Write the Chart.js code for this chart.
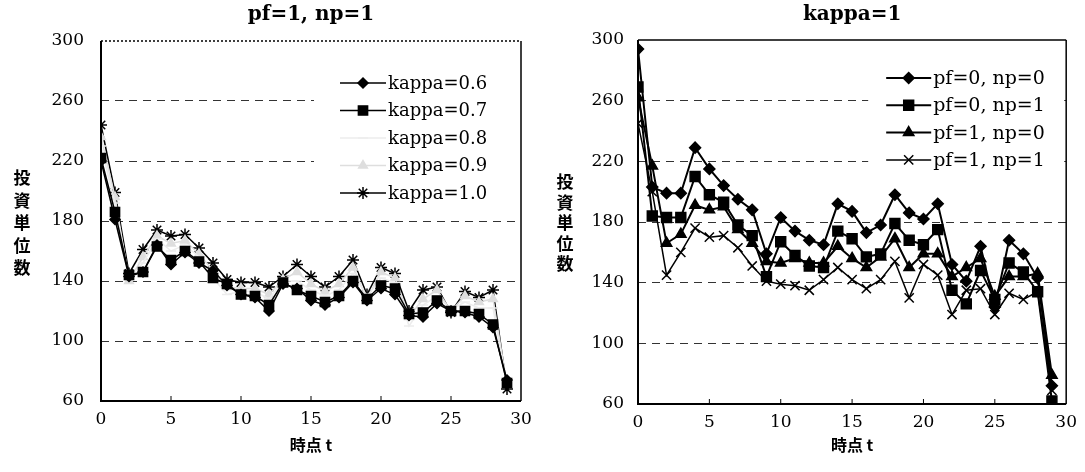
<!DOCTYPE html>
<html>
<head>
<meta charset="utf-8">
<script src="https://cdn.jsdelivr.net/npm/chart.js@4.4.0/dist/chart.umd.min.js"></script>
<style>
  body { margin: 0; background: #fff; }
  #wrap { position: relative; width: 1085px; height: 472px; overflow: hidden; }
  .box { position: absolute; top: 0; height: 472px; }
  .ytitle {
    position: absolute; width: 24px; text-align: center;
    font-family: "Noto Sans CJK JP", sans-serif; font-weight: bold; font-size: 17px; color: #000;
  }
</style>
</head>
<body>
<div id="wrap">
  <div class="box" style="left:0;width:540px"><canvas id="leftChart"></canvas></div>
  <div class="box" style="left:540px;width:545px"><canvas id="rightChart"></canvas></div>
  <div class="ytitle" style="left:10px;top:166px;line-height:22.5px">投<br>資<br>単<br>位<br>数</div>
  <div class="ytitle" style="left:553px;top:171px;line-height:20.5px">投<br>資<br>単<br>位<br>数</div>
</div>
<script>
// data
const times = [0, 1, 2, 3, 4, 5, 6, 7, 8, 9, 10, 11, 12, 13, 14, 15, 16, 17, 18, 19, 20, 21, 22, 23, 24, 25, 26, 27, 28, 29];
const xTicks = [0, 5, 10, 15, 20, 25, 30];
const yTicks = [60, 100, 140, 180, 220, 260, 300];

// left chart: pf=1, np=1
const kappa06 = [220, 181, 143, 146, 164, 151, 159, 152, 147, 137, 131, 129, 120, 138, 135, 127, 124, 129, 139, 127, 135, 131, 117, 116, 125, 120, 119, 116, 109, 74];
const kappa07 = [222, 186, 144, 146, 163, 154, 160, 153, 142, 138, 131, 130, 124, 139, 134, 130, 126, 130, 140, 128, 137, 135, 118, 119, 127, 120, 120, 118, 111, 72];
const kappa08 = [230, 192, 142, 152, 168, 160, 164, 156, 142, 131, 133, 133, 128, 140, 140, 134, 130, 134, 145, 130, 142, 139, 110, 124, 130, 121, 126, 122, 122, 70];
const kappa09 = [236, 196, 140, 156, 170, 165, 167, 158, 147, 136, 135, 135, 131, 141, 146, 138, 133, 138, 149, 128, 146, 142, 116, 128, 134, 120, 130, 126, 128, 71];
const kappa10 = [244, 199, 145, 161, 174, 170, 171, 162, 152, 141, 139, 139, 136, 143, 151, 143, 136, 143, 154, 131, 149, 145, 120, 134, 136, 119, 133, 129, 134, 68];

// right chart: kappa=1
const pf0np0 = [294, 203, 199, 199, 229, 215, 204, 195, 188, 159, 183, 174, 168, 165, 192, 187, 173, 178, 198, 186, 182, 192, 152, 141, 164, 124, 168, 159, 143, 72];
const pf0np1 = [269, 184, 183, 183, 210, 198, 193, 178, 171, 144, 167, 158, 151, 150, 174, 169, 157, 159, 179, 168, 165, 175, 135, 126, 148, 129, 153, 147, 134, 62];
const pf1np0 = [262, 217, 166, 172, 191, 188, 190, 175, 166, 154, 153, 156, 153, 153, 164, 156, 150, 157, 169, 150, 159, 159, 144, 150, 156, 131, 144, 144, 146, 79];
const pf1np1 = [245, 200, 145, 160, 176, 170, 171, 163, 151, 141, 139, 138, 135, 142, 150, 142, 136, 142, 154, 130, 152, 145, 119, 135, 136, 119, 133, 129, 134, 69];

const serif = '"DejaVu Serif", "Liberation Serif", serif';
const cjk = '"Noto Sans CJK JP", sans-serif';

function toPoints(values) {
    return values.map((v, i) => ({ x: times[i], y: v }));
}

function series(label, values, color, style, radius, width) {
    return {
        label: label,
        data: toPoints(values),
        borderColor: color,
        borderWidth: width,
        pointStyle: style,
        pointRadius: radius,
        pointBackgroundColor: color,
        pointBorderColor: color,
        pointBorderWidth: 1.5,
        tension: 0
    };
}

// legend drawn inside the plot box, top right, on a white patch
const boxLegend = {
    id: 'boxLegend',
    afterDraw(chart, args, opts) {
        const ctx = chart.ctx;
        const area = chart.chartArea;
        const sets = chart.data.datasets;
        const x0 = area.right - opts.right;
        ctx.save();
        ctx.fillStyle = '#fff';
        ctx.fillRect(x0 - opts.patch, area.top + opts.top - opts.gap / 2 - 2,
            area.right - x0 + opts.patch - 2, sets.length * opts.gap + 4);
        sets.forEach((ds, i) => {
            const y = area.top + opts.top + i * opts.gap;
            ctx.setLineDash([]);
            ctx.strokeStyle = ds.borderColor;
            ctx.lineWidth = ds.borderWidth;
            ctx.beginPath();
            ctx.moveTo(x0, y);
            ctx.lineTo(x0 + opts.lineLen, y);
            ctx.stroke();
            ctx.fillStyle = ds.pointBackgroundColor;
            ctx.strokeStyle = ds.pointBorderColor;
            ctx.lineWidth = ds.pointBorderWidth;
            Chart.helpers.drawPoint(ctx, {
                pointStyle: ds.pointStyle, radius: ds.pointRadius,
                borderWidth: ds.pointBorderWidth, rotation: 0
            }, x0 + opts.lineLen / 2, y);
            ctx.fillStyle = '#000';
            ctx.font = opts.font;
            ctx.textAlign = 'left';
            ctx.textBaseline = 'middle';
            ctx.fillText(ds.label, x0 + opts.lineLen + 2, y + 1);
        });
        ctx.restore();
    }
};

// box around plot + small inward ticks on the x axis
const frame = {
    id: 'frame',
    afterDraw(chart, args, opts) {
        const ctx = chart.ctx;
        const a = chart.chartArea;
        const xs = chart.scales.x;
        ctx.save();
        ctx.strokeStyle = '#000';
        ctx.lineWidth = 1.5;
        ctx.beginPath();
        ctx.moveTo(a.right, a.top);
        ctx.lineTo(a.right, a.bottom);
        ctx.stroke();
        ctx.lineWidth = 2;
        ctx.beginPath();
        ctx.moveTo(a.left, a.top);
        ctx.lineTo(a.left, a.bottom);
        ctx.lineTo(a.right, a.bottom);
        ctx.stroke();
        ctx.lineWidth = 1.5;
        ctx.setLineDash(opts.topDash);
        ctx.beginPath();
        ctx.moveTo(a.left, a.top);
        ctx.lineTo(a.right, a.top);
        ctx.stroke();
        ctx.setLineDash([]);
        ctx.lineWidth = 1;
        xTicks.slice(1, -1).forEach(t => {
            const px = xs.getPixelForValue(t);
            ctx.beginPath();
            ctx.moveTo(px, a.bottom);
            ctx.lineTo(px, a.bottom - 5);
            ctx.stroke();
        });
        ctx.restore();
    }
};

function makeChart(id, title, datasets, cfg) {
    return new Chart(document.getElementById(id), {
        type: 'line',
        data: { datasets: datasets },
        plugins: [boxLegend, frame],
        options: {
            responsive: true,
            maintainAspectRatio: false,
            animation: false,
            layout: { padding: { left: 0, right: cfg.padRight, top: 0, bottom: 0 } },
            plugins: {
                legend: { display: false },
                tooltip: { enabled: false },
                title: {
                    display: true,
                    text: title,
                    fullSize: false,
                    color: '#000',
                    font: { family: serif, size: 20, weight: 'bold' },
                    padding: { top: 3, bottom: cfg.plotTop - 3 - 24 }
                },
                boxLegend: cfg.legend,
                frame: { topDash: cfg.topDash }
            },
            scales: {
                x: {
                    type: 'linear',
                    min: 0,
                    max: 30,
                    afterBuildTicks: s => { s.ticks = xTicks.map(v => ({ value: v })); },
                    ticks: { color: '#000', padding: 8, font: { family: serif, size: 17 } },
                    grid: { display: false, drawTicks: false },
                    border: { display: false },
                    title: {
                        display: true,
                        text: '時点 t',
                        color: '#000',
                        font: { family: cjk, size: 16, weight: 'bold' },
                        padding: { top: 0, bottom: 17 }
                    },
                    afterFit: s => { s.height = cfg.xHeight; }
                },
                y: {
                    min: 60,
                    max: 300,
                    afterBuildTicks: s => { s.ticks = yTicks.map(v => ({ value: v })); },
                    ticks: { color: '#000', padding: cfg.yPad, font: { family: serif, size: 17 } },
                    grid: {
                        drawTicks: false,
                        lineWidth: 1,
                        color: c => (c.tick && (c.tick.value === 60 || c.tick.value === 300)) ? 'rgba(0,0,0,0)' : '#333'
                    },
                    border: { display: false, dash: [8, 6] },
                    afterFit: s => { s.width = cfg.yWidth; }
                }
            }
        }
    });
}

const leftChart = makeChart('leftChart', 'pf=1, np=1', [
    series('kappa=0.6', kappa06, '#000', 'rectRot', 5, 1.5),
    series('kappa=0.7', kappa07, '#000', 'rect', 6.5, 1.5),
    series('kappa=0.8', kappa08, '#ececec', 'line', 5, 1.5),
    series('kappa=0.9', kappa09, '#dedede', 'triangle', 5, 1.5),
    series('kappa=1.0', kappa10, '#000', 'star', 6, 1.5)
], {
    padRight: 19, plotTop: 41, xHeight: 71, yWidth: 101, yPad: 17, topDash: [2, 2],
    legend: { top: 42, gap: 27.5, right: 181, lineLen: 46, patch: 26, font: '18px ' + serif }
});

const rightChart = makeChart('rightChart', 'kappa=1', [
    series('pf=0, np=0', pf0np0, '#000', 'rectRot', 5.5, 2),
    series('pf=0, np=1', pf0np1, '#000', 'rect', 7, 2),
    series('pf=1, np=0', pf1np0, '#000', 'triangle', 6, 2),
    series('pf=1, np=1', pf1np1, '#000', 'crossRot', 6.5, 1.5)
], {
    padRight: 17, plotTop: 40, xHeight: 68, yWidth: 98, yPad: 14, topDash: [],
    legend: { top: 38, gap: 27.3, right: 180, lineLen: 45, patch: 18, font: '19px ' + serif }
});
</script>
</body>
</html>
